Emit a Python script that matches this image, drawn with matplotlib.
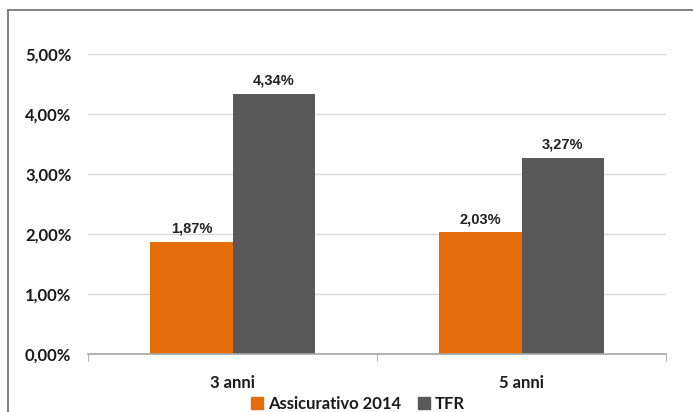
import matplotlib.pyplot as plt
import matplotlib.font_manager as fm
from matplotlib.lines import Line2D
import numpy as np

categories = ["3 anni", "5 anni"]
assicurativo = [1.87, 2.03]
tfr = [4.34, 3.27]
series_names = ["Assicurativo 2014", "TFR"]
yticks = [0, 1, 2, 3, 4, 5]

ORANGE = "#E46C0A"
GRAY = "#595959"

names = {f.name for f in fm.fontManager.ttflist}
narrow = "Liberation Sans Narrow" if "Liberation Sans Narrow" in names else "Liberation Sans"
main_font = "Lato"

fig = plt.figure(figsize=(6.93, 4.12), dpi=100)
ax = fig.add_axes([88 / 693, 58 / 412, 578 / 693, 300 / 412])

x = np.arange(len(categories))
w = 0.284
ax.bar(x - w / 2, assicurativo, w, color=ORANGE, zorder=3)
ax.bar(x + w / 2, tfr, w, color=GRAY, zorder=3)

for xi, v in zip(x - w / 2, assicurativo):
    ax.text(xi, v + 0.1, f"{v:.2f}%".replace(".", ","), ha="center", va="bottom",
            fontsize=10.5, fontweight="bold", family=narrow, color="#222222")
for xi, v in zip(x + w / 2, tfr):
    ax.text(xi, v + 0.1, f"{v:.2f}%".replace(".", ","), ha="center", va="bottom",
            fontsize=10.5, fontweight="bold", family=narrow, color="#222222")

ax.set_xlim(-0.5, 1.5)
ax.set_ylim(0, 5)
ax.set_yticks(yticks)
ax.set_yticklabels([f"{t:.2f}%".replace(".", ",") for t in yticks],
                   fontsize=12, fontweight="bold", family=main_font, color="#1a1a1a")
ax.set_xticks(x)
ax.set_xticklabels(categories, fontsize=12, fontweight="bold", family=main_font, color="#1a1a1a")
ax.set_xticks([-0.5, 0.5, 1.5], minor=True)
ax.tick_params(axis="x", which="major", length=0, pad=15)
ax.tick_params(axis="x", which="minor", length=5, color="#A6A6A6", direction="out")
ax.tick_params(axis="y", length=0, pad=12)

ax.grid(axis="y", color="#D9D9D9", linewidth=1, zorder=0)
for s in ["top", "right", "left"]:
    ax.spines[s].set_visible(False)
ax.spines["bottom"].set_color("#A6A6A6")
ax.spines["bottom"].set_linewidth(1.2)
ax.spines["bottom"].set_zorder(4)

handles = [Line2D([], [], marker="s", linestyle="", markersize=8, color=c) for c in (ORANGE, GRAY)]
leg = fig.legend(handles, series_names, loc="center", bbox_to_anchor=(358 / 693, 1 - 404 / 412),
                 ncol=2, frameon=False, handlelength=0.7, handletextpad=0.3, columnspacing=1.0,
                 borderpad=0, prop={"family": main_font, "weight": "bold", "size": 12})
for t in leg.get_texts():
    t.set_color("#1a1a1a")

# outer frame (top and left only)
fig.add_artist(Line2D([8 / 693, 1], [1 - 10 / 412, 1 - 10 / 412], color="#6E6E6E", linewidth=1.2,
                      transform=fig.transFigure))
fig.add_artist(Line2D([8 / 693, 8 / 693], [0, 1 - 10 / 412], color="#6E6E6E", linewidth=1.2,
                      transform=fig.transFigure))

fig.savefig("out.png", dpi=100)
